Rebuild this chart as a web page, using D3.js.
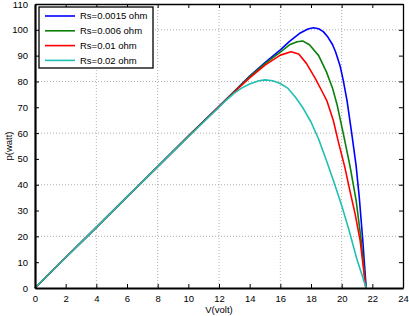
<!DOCTYPE html>
<html>
<head>
<meta charset="utf-8">
<script src="https://cdn.jsdelivr.net/npm/d3@7"></script>
<style>
  html, body { margin: 0; padding: 0; background: #fff; }
  svg { display: block; }
  text { font-family: "Liberation Sans", Arial, sans-serif; fill: #000; }
</style>
</head>
<body>
<svg id="chart"></svg>
<script>
// ───────────────── DATA ─────────────────
const seriesNames = ["Rs=0.0015 ohm", "Rs=0.006 ohm", "Rs=0.01 ohm", "Rs=0.02 ohm"];
const seriesColors = ["#0000ff", "#0a7f0a", "#ff0000", "#1fc0b2"];

// [V, P] pairs
const rs0015 = [
  [0, 0], [2, 11.8], [4, 23.5], [6, 35.3], [8, 47], [10, 58.8], [12, 70.4],
  [13, 76.2], [14, 82.1], [15, 87.3], [16, 92.2], [16.6, 95.5], [17.3, 98.8],
  [17.8, 100.3], [18.15, 100.8], [18.5, 100.4], [18.8, 99.3], [19.1, 97.2],
  [19.4, 94.3], [19.6, 91.5], [19.9, 86], [20.1, 80.5], [20.35, 72.6],
  [20.66, 59.7], [20.94, 47.5], [21.15, 35], [21.37, 19], [21.6, 0]
];
const rs006 = [
  [0, 0], [2, 11.8], [4, 23.5], [6, 35.3], [8, 47], [10, 58.8], [12, 70.3],
  [13, 76.1], [14, 81.9], [15, 86.9], [16, 91.4], [16.6, 94.2], [17.1, 95.4],
  [17.45, 95.7], [17.9, 94.2], [18.5, 90], [19, 83.8], [19.4, 77.5],
  [19.7, 71], [20.1, 60], [20.55, 47], [20.94, 34], [21.27, 18.6], [21.58, 0]
];
const rs01 = [
  [0, 0], [2, 11.8], [4, 23.5], [6, 35.3], [8, 47], [10, 58.7], [12, 70.2],
  [13, 75.9], [14, 81.4], [15, 86.3], [16, 90.2], [16.7, 91.5], [17.2, 90.6],
  [17.7, 87], [18.25, 81.5], [18.7, 76.4], [19.03, 72.6], [19.46, 64.8],
  [19.79, 56.5], [20.2, 46.9], [20.6, 36], [20.87, 28.9], [21.2, 18.6], [21.57, 0]
];
const rs02 = [
  [0, 0], [2, 11.8], [4, 23.5], [6, 35.3], [8, 47], [10, 58.6], [11, 64.3],
  [12, 70], [12.5, 72.9], [13, 75.5], [13.5, 77.5], [14, 79], [14.6, 80.3],
  [15, 80.6], [15.5, 80.3], [16, 79.2], [16.5, 77.3], [17, 73.8], [17.5, 69.5],
  [18, 64.3], [18.5, 57.6], [19, 49.5], [19.5, 41], [20, 32], [20.5, 22],
  [21, 11], [21.6, 0]
];
const seriesData = [rs0015, rs006, rs01, rs02];

const xTicks = d3.range(0, 25, 2);
const yTicks = d3.range(0, 111, 10);
const xGrid = [4, 8, 12, 16, 20];
const yGrid = [20, 40, 60, 80, 100];

// ───────────────── SIZE ─────────────────
const W = 409;
const H = 316;
const margin = { top: 4, right: 6, bottom: 28, left: 35 };
const innerW = W - margin.left - margin.right;
const innerH = H - margin.top - margin.bottom;

const svg = d3.select("#chart")
  .attr("width", W)
  .attr("height", H)
  .attr("viewBox", `0 0 ${W} ${H}`);

const g = svg.append("g")
  .attr("transform", `translate(${margin.left},${margin.top})`);

// ───────────────── SCALE ─────────────────
const xScale = d3.scaleLinear().domain([0, 24]).range([0, innerW]);
const yScale = d3.scaleLinear().domain([0, 110]).range([innerH, 0]);

// ───── GRID ─────
g.append("g")
  .selectAll("line")
  .data(xGrid)
  .join("line")
  .attr("x1", d => xScale(d))
  .attr("x2", d => xScale(d))
  .attr("y1", 0)
  .attr("y2", innerH)
  .attr("stroke", "#9a9a9a")
  .attr("stroke-width", 0.8)
  .attr("stroke-dasharray", "1,2");

g.append("g")
  .selectAll("line")
  .data(yGrid)
  .join("line")
  .attr("x1", 0)
  .attr("x2", innerW)
  .attr("y1", d => yScale(d))
  .attr("y2", d => yScale(d))
  .attr("stroke", "#9a9a9a")
  .attr("stroke-width", 0.8)
  .attr("stroke-dasharray", "1,2");

// ───── LINES ─────
const line = d3.line()
  .x(d => xScale(d[0]))
  .y(d => yScale(d[1]));

g.append("g")
  .selectAll("path")
  .data(seriesData)
  .join("path")
  .attr("d", d => line(d))
  .attr("fill", "none")
  .attr("stroke", (d, i) => seriesColors[i])
  .attr("stroke-width", 1.6)
  .attr("stroke-linejoin", "round");

// ───── AXES ─────
function styleAxis(sel, width) {
  sel.select(".domain").attr("stroke", "#000").attr("stroke-width", width);
  sel.selectAll(".tick line").attr("stroke", "#000").attr("stroke-width", 1);
  sel.selectAll("text")
    .style("font-size", "9.5px")
    .style("font-family", "'Liberation Sans', Arial, sans-serif");
}

const xAxis = g.append("g")
  .attr("transform", `translate(0,${innerH})`)
  .call(d3.axisBottom(xScale).tickValues(xTicks).tickSize(-4).tickPadding(7).tickSizeOuter(0));
styleAxis(xAxis, 2);

const yAxis = g.append("g")
  .call(d3.axisLeft(yScale).tickValues(yTicks).tickSize(-4).tickPadding(7).tickSizeOuter(0));
styleAxis(yAxis, 2.2);

const xTop = g.append("g")
  .call(d3.axisTop(xScale).tickValues(xTicks).tickSize(-4).tickFormat("").tickSizeOuter(0));
styleAxis(xTop, 1.3);

const yRight = g.append("g")
  .attr("transform", `translate(${innerW},0)`)
  .call(d3.axisRight(yScale).tickValues(yTicks).tickSize(-4).tickFormat("").tickSizeOuter(0));
styleAxis(yRight, 1.3);

// ───── AXIS LABEL ─────
svg.append("text")
  .attr("x", margin.left + innerW / 2)
  .attr("y", H - 3)
  .attr("text-anchor", "middle")
  .style("font-size", "9.5px")
  .text("V(volt)");

svg.append("text")
  .attr("transform", `translate(12,${margin.top + innerH / 2}) rotate(-90)`)
  .attr("text-anchor", "middle")
  .style("font-size", "9.5px")
  .text("p(watt)");

// ───── LEGEND ─────
const legend = svg.append("g")
  .attr("transform", "translate(39,7)");

legend.append("rect")
  .attr("width", 114)
  .attr("height", 61)
  .attr("fill", "#fff")
  .attr("stroke", "#000")
  .attr("stroke-width", 1.3);

const rows = legend.selectAll(".row")
  .data(seriesNames)
  .join("g")
  .attr("class", "row")
  .attr("transform", (d, i) => `translate(0,${9 + i * 14.8})`);

rows.append("line")
  .attr("x1", 6)
  .attr("x2", 36)
  .attr("stroke", (d, i) => seriesColors[i])
  .attr("stroke-width", 1.6);

rows.append("text")
  .attr("x", 41)
  .attr("y", 3.3)
  .style("font-size", "9.5px")
  .text(d => d);
</script>
</body>
</html>
